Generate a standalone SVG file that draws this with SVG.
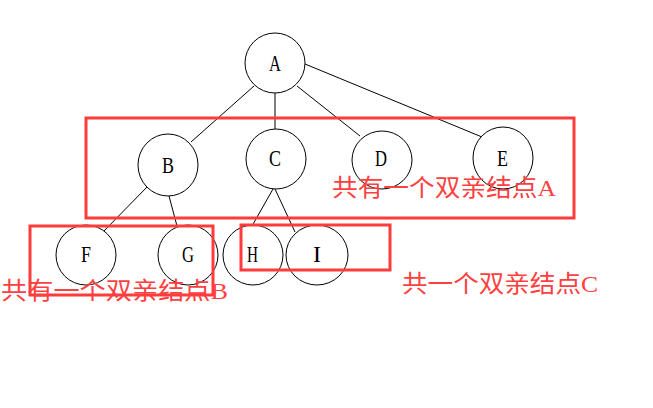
<svg xmlns="http://www.w3.org/2000/svg" width="653" height="408" viewBox="0 0 653 408">
<style>
.edge{stroke:#000;stroke-width:1;fill:none}
.node ellipse{fill:#fff;stroke:#000;stroke-width:1}
.node text{font-family:"Liberation Serif",serif;font-size:24px;fill:#000;text-anchor:middle}
.box{fill:none;stroke:#ff3b3b;stroke-width:3}
.note{font-family:"Noto Sans CJK SC","Liberation Serif",serif;font-size:24px;fill:#ff4040}
.lat{font-family:"Liberation Serif",serif}
</style>
<rect width="653" height="408" fill="#fff"/>
<g id="connectors">
<line class="edge" x1="254" y1="86" x2="191" y2="142"/>
<line class="edge" x1="275" y1="93" x2="275" y2="129"/>
<line class="edge" x1="297" y1="86" x2="360" y2="136"/>
<line class="edge" x1="305" y1="64" x2="482" y2="137"/>
<line class="edge" x1="147" y1="187" x2="103" y2="232"/>
<line class="edge" x1="169" y1="196" x2="177" y2="226"/>
<line class="edge" x1="273" y1="189" x2="252" y2="226"/>
<line class="edge" x1="275" y1="189" x2="295" y2="232"/>
</g>
<g id="node-A" class="node"><ellipse cx="275" cy="63" rx="30" ry="30"/><text x="275" y="71" textLength="12" lengthAdjust="spacingAndGlyphs">A</text></g>
<g id="node-B" class="node"><ellipse cx="168" cy="165" rx="30" ry="31"/><text x="168" y="173" textLength="12" lengthAdjust="spacingAndGlyphs">B</text></g>
<g id="node-C" class="node"><ellipse cx="276" cy="159" rx="30" ry="30"/><text x="275" y="166" textLength="12" lengthAdjust="spacingAndGlyphs">C</text></g>
<g id="node-D" class="node"><ellipse cx="382" cy="160" rx="30" ry="29"/><text x="381" y="166" textLength="12" lengthAdjust="spacingAndGlyphs">D</text></g>
<g id="node-E" class="node"><ellipse cx="503" cy="158" rx="30" ry="31"/><text x="502.5" y="166" textLength="11" lengthAdjust="spacingAndGlyphs">E</text></g>
<g id="node-F" class="node"><ellipse cx="86" cy="255" rx="30" ry="30"/><text x="86" y="262" textLength="10" lengthAdjust="spacingAndGlyphs">F</text></g>
<g id="node-G" class="node"><ellipse cx="188" cy="255" rx="30" ry="30"/><text x="188" y="262" textLength="12" lengthAdjust="spacingAndGlyphs">G</text></g>
<g id="node-H" class="node"><ellipse cx="253" cy="255" rx="30" ry="30"/><text x="252.5" y="262" textLength="11" lengthAdjust="spacingAndGlyphs">H</text></g>
<g id="node-I" class="node"><ellipse cx="317" cy="255" rx="31" ry="30"/><text x="317" y="262" textLength="8" lengthAdjust="spacingAndGlyphs">I</text></g>
<g id="annotations">
<rect class="box" x="86" y="118" width="488" height="100"/>
<rect class="box" x="30" y="226" width="183" height="69"/>
<rect class="box" x="241" y="225" width="149" height="45"/>
<text class="note" x="332" y="196" textLength="224" lengthAdjust="spacingAndGlyphs">共有一个双亲结点<tspan class="lat">A</tspan></text>
<text class="note" x="1" y="299" textLength="227" lengthAdjust="spacingAndGlyphs">共有一个双亲结点<tspan class="lat">B</tspan></text>
<text class="note" x="402" y="292" textLength="196" lengthAdjust="spacingAndGlyphs">共一个双亲结点<tspan class="lat">C</tspan></text>
</g>
</svg>
